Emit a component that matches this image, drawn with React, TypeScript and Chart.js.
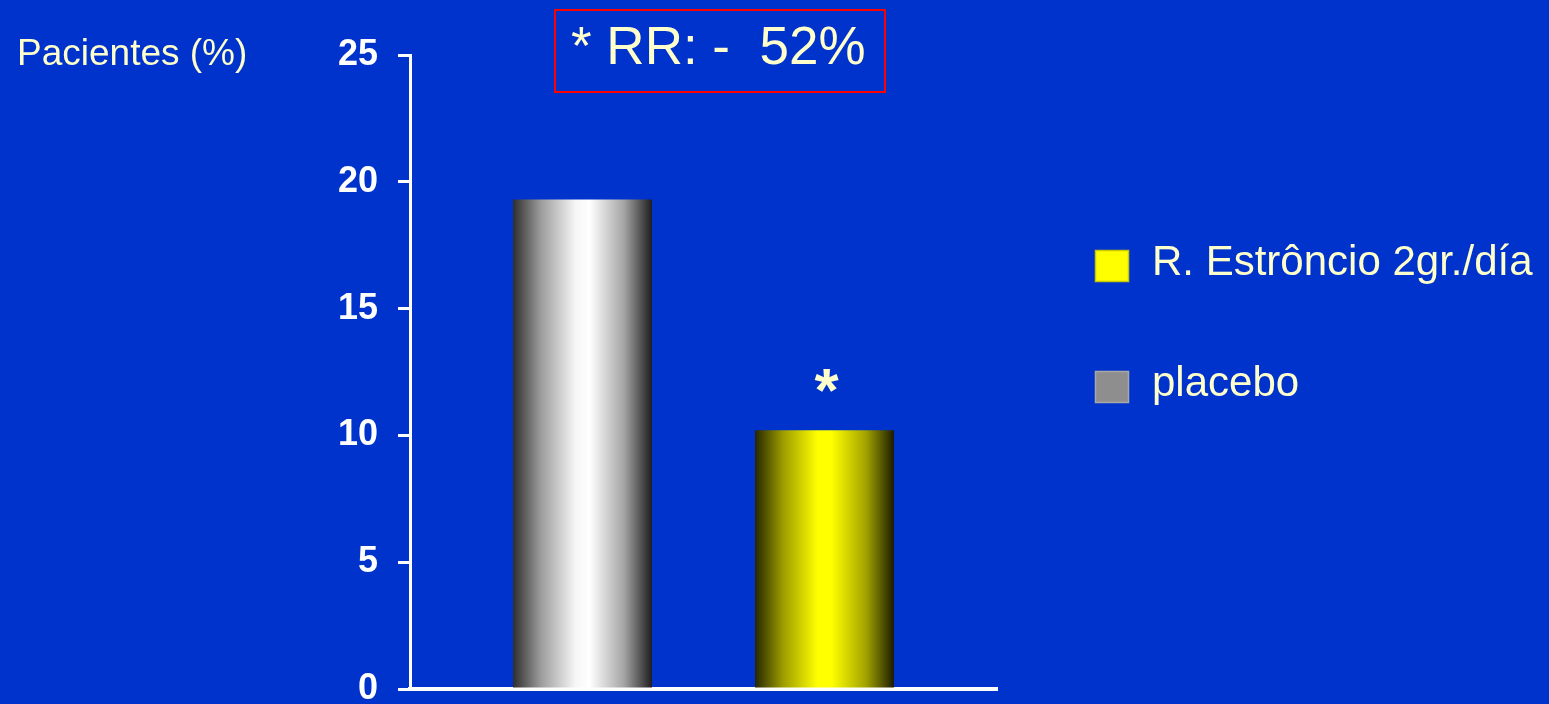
import React, { useEffect, useRef } from 'react';
import { Chart, registerables } from 'chart.js';

Chart.register(...registerables);

// ---- data ----
const categories = ['placebo', 'R. Estrôncio 2gr./día'];
const categoryPositions = [1, 2];
const placeboValues = [19.3];
const strontiumValues = [10.2];
const yTickValues = [0, 5, 10, 15, 20, 25];
const axisTitle = 'Pacientes (%)';
const annotationText = '* RR: -  52%';
const significanceMark = '*';
const legendOrder = [1, 0];

// ---- styles ----
const BG = '#0033CC';
const CREAM = '#FFFFCC';
const FONT = "'Liberation Sans', Arial, sans-serif";
const BAR_PCT = 0.574;
const grayStops: [number, string][] = [
  [0, '#2e2e2e'], [0.2, '#9c9c9c'], [0.45, '#f6f6f6'], [0.55, '#ffffff'], [0.8, '#a4a4a4'], [1, '#1e1e1e'],
];
const yellowStops: [number, string][] = [
  [0, '#262600'], [0.2, '#9c9c00'], [0.45, '#ffff00'], [0.55, '#ffff00'], [0.8, '#a2a200'], [1, '#1c1c00'],
];
const swatches = ['#8E8E8E', '#FFFF00'];

function barGradient(ctx: any, stops: [number, string][]) {
  const chart = ctx.chart;
  const xs = chart.scales && chart.scales.x;
  const fallback = stops[3][1];
  if (!xs || ctx.type !== 'data' || !ctx.raw) return fallback;
  const cx = xs.getPixelForValue(ctx.raw.x);
  const gap = Math.abs(xs.getPixelForValue(categoryPositions[1]) - xs.getPixelForValue(categoryPositions[0]));
  const half = (gap * BAR_PCT) / 2;
  if (!Number.isFinite(cx) || !Number.isFinite(half) || half <= 0) return fallback;
  const g = chart.ctx.createLinearGradient(cx - half, 0, cx + half, 0);
  stops.forEach(([o, c]) => g.addColorStop(o, c));
  return g;
}

const decorPlugin = {
  id: 'decor',
  beforeDraw(chart: any) {
    const { ctx, width, height } = chart;
    ctx.save();
    ctx.fillStyle = BG;
    ctx.fillRect(0, 0, width, height);
    ctx.restore();
  },
  afterDraw(chart: any) {
    const { ctx } = chart;
    const xs = chart.scales.x;
    const ys = chart.scales.y;
    ctx.save();
    // axis title
    ctx.fillStyle = CREAM;
    ctx.font = `37px ${FONT}`;
    ctx.textAlign = 'left';
    ctx.textBaseline = 'alphabetic';
    ctx.fillText(axisTitle, 17, 65);

    // annotation box
    ctx.strokeStyle = '#FF0000';
    ctx.lineWidth = 2;
    ctx.strokeRect(555, 10, 330, 82);
    ctx.font = `53px ${FONT}`;
    ctx.fillText(annotationText, 571, 64);

    // significance mark above strontium bar
    const cx = xs.getPixelForValue(categoryPositions[1]);
    const top = ys.getPixelForValue(strontiumValues[0]) - 61;
    ctx.font = `bold 62px ${FONT}`;
    ctx.textAlign = 'center';
    const m = ctx.measureText(significanceMark);
    ctx.fillText(significanceMark, cx + 2, top + m.actualBoundingBoxAscent);

    // legend
    const rows = [{ box: 250, base: 275 }, { box: 371, base: 396 }];
    legendOrder.forEach((di, i) => {
      const ds = chart.data.datasets[di];
      const r = rows[i];
      ctx.fillStyle = swatches[di];
      ctx.fillRect(1095, r.box, 34, 32);
      ctx.strokeStyle = di === 1 ? '#C8C800' : '#A8A8A8';
      ctx.lineWidth = 1.5;
      ctx.strokeRect(1095.5, r.box + 0.5, 33, 31);
      ctx.fillStyle = CREAM;
      ctx.font = `42px ${FONT}`;
      ctx.textAlign = 'left';
      ctx.fillText(ds.label, 1152, r.base);
    });
    ctx.restore();
  },
};

export default function App() {
  const ref = useRef<HTMLCanvasElement | null>(null);

  useEffect(() => {
    document.body.style.margin = '0';
    document.documentElement.style.overflow = 'hidden';
    const canvas = ref.current;
    if (!canvas) return;
    const chart = new Chart(canvas, {
      type: 'bar',
      data: {
        datasets: [
          {
            label: categories[0],
            data: [{ x: categoryPositions[0], y: placeboValues[0] }],
            backgroundColor: (c: any) => barGradient(c, grayStops),
            borderWidth: 0,
            grouped: false,
            categoryPercentage: 1,
            barPercentage: BAR_PCT,
          },
          {
            label: categories[1],
            data: [{ x: categoryPositions[1], y: strontiumValues[0] }],
            backgroundColor: (c: any) => barGradient(c, yellowStops),
            borderWidth: 0,
            grouped: false,
            categoryPercentage: 1,
            barPercentage: BAR_PCT,
          },
        ] as any,
      },
      options: {
        animation: false,
        responsive: false,
        maintainAspectRatio: false,
        layout: { padding: { left: 0, top: 55, right: 552, bottom: 0 } },
        plugins: { legend: { display: false }, tooltip: { enabled: false } },
        scales: {
          x: {
            type: 'linear',
            min: 0.2872,
            max: 2.7128,
            offset: false,
            afterBuildTicks: (s: any) => { s.ticks = categoryPositions.map((v) => ({ value: v })); },
            ticks: { display: false },
            grid: { display: false },
            border: { display: true, color: '#FFFFFF', width: 4 },
            afterFit: (s: any) => { s.height = 15; s.paddingLeft = 0; s.paddingRight = 0; },
          },
          y: {
            type: 'linear',
            min: yTickValues[0],
            max: yTickValues[yTickValues.length - 1],
            afterBuildTicks: (s: any) => { s.ticks = yTickValues.map((v) => ({ value: v })); },
            ticks: {
              color: '#FFFFFF',
              padding: 20,
              font: { family: FONT, size: 36, weight: 'bold' },
            },
            grid: {
              display: true,
              drawOnChartArea: false,
              drawTicks: true,
              tickLength: 12,
              lineWidth: 3,
              color: '#FFFFFF',
            },
            border: { display: true, color: '#FFFFFF', width: 3 },
            afterFit: (s: any) => { s.width = 410; s.paddingTop = 0; s.paddingBottom = 0; },
          },
        },
      } as any,
      plugins: [decorPlugin],
    });
    return () => chart.destroy();
  }, []);

  return (
    <div style={{ width: 1549, height: 704, background: BG }}>
      <canvas ref={ref} width={1549} height={704} style={{ display: 'block' }} />
    </div>
  );
}
